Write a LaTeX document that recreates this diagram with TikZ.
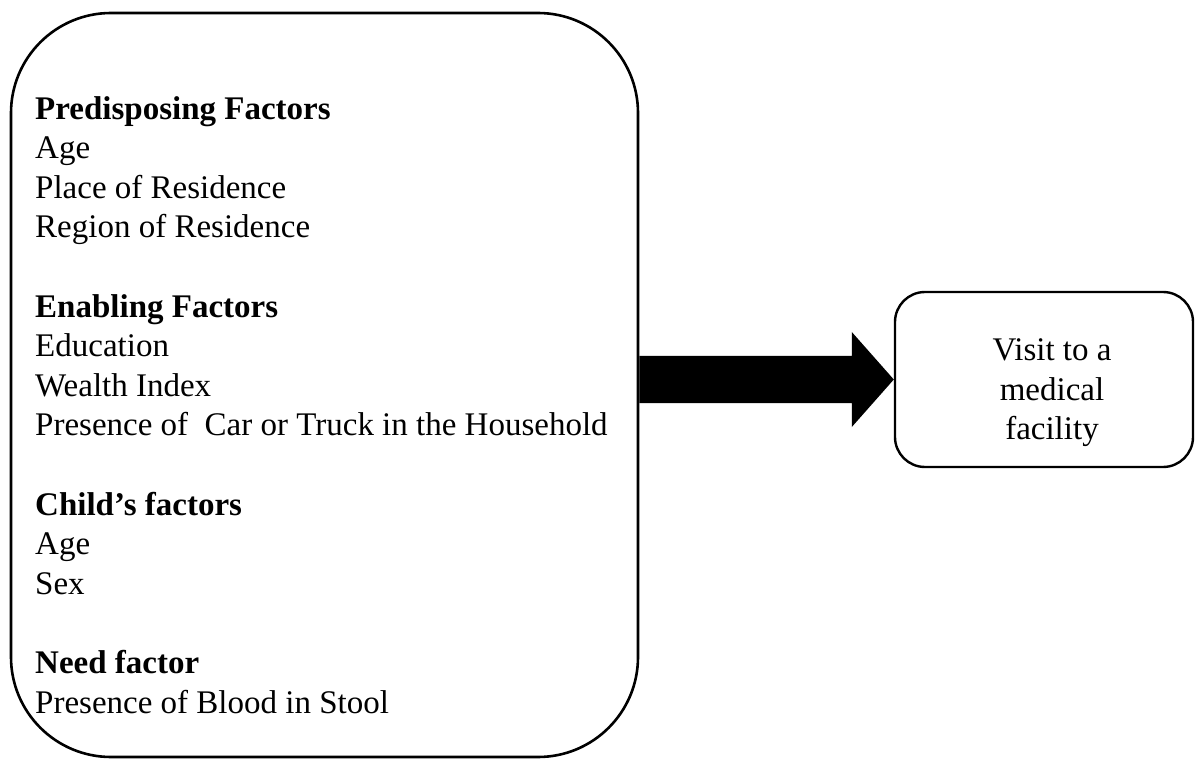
\documentclass[tikz,border=0pt]{standalone}
\usepackage{fontspec}
\setmainfont{Liberation Serif}
\usetikzlibrary{calc}
\tikzset{
  bigbox/.style={draw, line width=2.6pt, rounded corners=100pt, minimum width=627pt, minimum height=744pt, inner sep=0pt},
  smallbox/.style={draw, line width=2.4pt, rounded corners=30pt, minimum width=298pt, minimum height=175pt, inner sep=0pt},
  txt/.style={inner sep=0pt, font=\fontsize{33}{39.6}\selectfont},
}
\begin{document}
\begin{tikzpicture}[x=1pt,y=-1pt]
\useasboundingbox (0,0) rectangle (1197,759);
\node[bigbox] (left) at (324.5,385) {};
\node[smallbox] (right) at (1044,379.5) {};
\node[txt, anchor=north west, align=left] (factors) at (35,96) {%
\textbf{Predisposing Factors}\\
Age\\
Place of Residence\\
Region of Residence\\[39.6pt]
\textbf{Enabling Factors}\\
Education\\
Wealth Index\\
Presence of\ \ Car or Truck in the Household\\[39.6pt]
\textbf{Child’s factors}\\
Age\\
Sex\\[39.6pt]
\textbf{Need factor}\\
Presence of Blood in Stool};
\node[txt, align=center] (outcome) at (1052,393) {Visit to a\\medical\\facility};
\coordinate (tail) at (left.east |- right.west);
\fill ($(tail)+(0,-23.5)$) -- ($(right.west)+(-42,-23.5)$) -- ($(right.west)+(-42,-47.5)$)
  -- (right.west) -- ($(right.west)+(-42,47.5)$) -- ($(right.west)+(-42,23.5)$)
  -- ($(tail)+(0,23.5)$) -- cycle;
\end{tikzpicture}
\end{document}
